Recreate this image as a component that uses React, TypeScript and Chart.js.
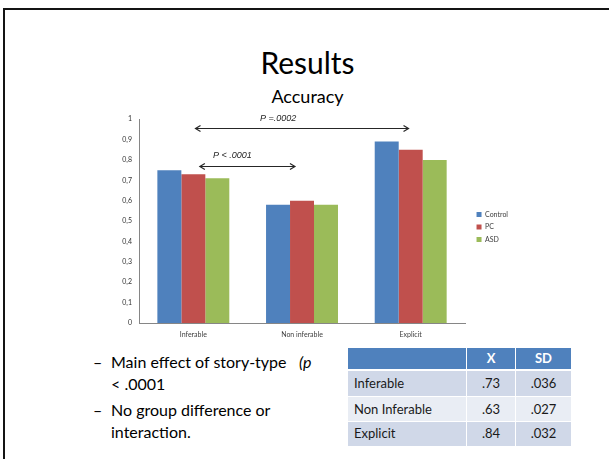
import React, { useEffect, useRef } from "react";
import { Chart, registerables } from "chart.js";

Chart.register(...registerables);

// ---- data ----
const categories = ["Inferable", "Non inferable", "Explicit"];
const seriesNames = ["Control", "PC", "ASD"];
const controlValues = [0.75, 0.58, 0.89];
const pcValues = [0.73, 0.6, 0.85];
const asdValues = [0.71, 0.58, 0.8];
const seriesColors = ["#4F81BD", "#C0504D", "#9BBB59"];
const yTickLabels = ["0", "0,1", "0,2", "0,3", "0,4", "0,5", "0,6", "0,7", "0,8", "0,9", "1"];

// significance brackets: category-index range, y level, label position
const comparisonLabels = ["P =.0002", "P < .0001"];
const comparisonFrom = [0.02, 0.06];
const comparisonTo = [1.98, 0.935];
const comparisonY = [0.956, 0.768];
const comparisonLabelX = [0.78, 0.36];
const comparisonLabelY = [1.004, 0.82];

const tableHeader = ["", "X", "SD"];
const tableRowNames = ["Inferable", "Non Inferable", "Explicit"];
const tableMeans = [".73", ".63", ".84"];
const tableSDs = [".036", ".027", ".032"];

const bulletLines = [
  ["Main effect of story-type", "< .0001"],
  ["No group difference or", "interaction."],
];

const arrowPlugin = {
  id: "arrows",
  afterDraw(chart: any) {
    const { ctx } = chart;
    const x = chart.scales.x;
    const y = chart.scales.y;
    ctx.save();
    comparisonLabels.forEach((label, i) => {
      const x1 = x.getPixelForValue(comparisonFrom[i]);
      const x2 = x.getPixelForValue(comparisonTo[i]);
      const yy = Math.round(y.getPixelForValue(comparisonY[i])) + 0.5;
      ctx.strokeStyle = "#262626";
      ctx.lineWidth = 1.2;
      ctx.beginPath();
      ctx.moveTo(x1, yy);
      ctx.lineTo(x2, yy);
      ctx.stroke();
      ctx.beginPath();
      ctx.moveTo(x1 + 5, yy - 3);
      ctx.lineTo(x1, yy);
      ctx.lineTo(x1 + 5, yy + 3);
      ctx.moveTo(x2 - 5, yy - 3);
      ctx.lineTo(x2, yy);
      ctx.lineTo(x2 - 5, yy + 3);
      ctx.stroke();
      ctx.font = "italic 9px 'Liberation Sans', Arial, sans-serif";
      ctx.fillStyle = "#262626";
      ctx.textAlign = "center";
      ctx.textBaseline = "middle";
      ctx.fillText(label, x.getPixelForValue(comparisonLabelX[i]), y.getPixelForValue(comparisonLabelY[i]));
    });
    ctx.restore();
  },
};

const legendShiftPlugin = {
  id: "legendShift",
  afterLayout(chart: any) {
    const l = chart.legend;
    if (!l) return;
    l.left += 6;
    l.right += 6;
    l.top -= 6;
    l.bottom -= 6;
  },
};

export default function App() {
  const canvasRef = useRef<HTMLCanvasElement | null>(null);

  useEffect(() => {
    if (!canvasRef.current) return;
    const valueSets = [controlValues, pcValues, asdValues];
    const chart = new Chart(canvasRef.current, {
      type: "bar",
      data: {
        labels: categories,
        datasets: seriesNames.map((name, i) => ({
          label: name,
          data: valueSets[i],
          backgroundColor: seriesColors[i],
          borderWidth: 0,
          barPercentage: 1,
          categoryPercentage: 0.662,
        })),
      },
      options: {
        animation: false,
        responsive: false,
        maintainAspectRatio: false,
        layout: { padding: { top: 10, right: 48, bottom: 0, left: 0 } },
        plugins: {
          legend: {
            position: "right",
            labels: {
              boxWidth: 5,
              boxHeight: 5,
              padding: 5.5,
              color: "#404040",
              font: { family: "Lato, sans-serif", size: 7 },
            },
          },
          tooltip: { enabled: false },
        },
        scales: {
          x: {
            grid: { display: false, drawTicks: false },
            border: { display: true, color: "#868686", width: 1 },
            ticks: {
              color: "#404040",
              padding: 8,
              font: { family: "Lato, sans-serif", size: 7 },
            },
            afterFit: (s: any) => {
              s.height = 25;
            },
          },
          y: {
            min: 0,
            max: 1,
            grid: { display: false, drawTicks: false },
            border: { display: true, color: "#868686", width: 1 },
            ticks: {
              stepSize: 0.1,
              color: "#333333",
              padding: 7,
              font: { family: "Lato, sans-serif", size: 7 },
              callback: (_v: any, i: number) => yTickLabels[i],
            },
            afterFit: (s: any) => {
              s.width = 39;
            },
          },
        },
      },
      plugins: [arrowPlugin, legendShiftPlugin],
    } as any);
    return () => chart.destroy();
  }, []);

  const rowBg = ["#D0D8E8", "#E9EDF4", "#D0D8E8"];
  const rowH = [26, 25, 24];
  const colW = [119, 49, 55];

  return (
    <div
      style={{
        position: "absolute",
        left: 0,
        top: 0,
        width: 609,
        height: 459,
        overflow: "hidden",
        background: "#fff",
        fontFamily: "Lato, 'Open Sans', sans-serif",
        color: "#000",
      }}
    >
      <div
        style={{
          position: "absolute",
          left: 3,
          top: 8,
          width: 700,
          height: 600,
          border: "2px solid #141414",
        }}
      />
      <div
        style={{
          position: "absolute",
          left: 0,
          width: 615,
          top: 47,
          fontSize: 30,
          lineHeight: "30px",
          textAlign: "center",
        }}
      >
        Results
      </div>
      <div
        style={{
          position: "absolute",
          left: 0,
          width: 615,
          top: 87,
          fontSize: 18,
          lineHeight: "18px",
          textAlign: "center",
        }}
      >
        Accuracy
      </div>
      <div style={{ position: "absolute", left: 100, top: 108, width: 460, height: 240 }}>
        <canvas ref={canvasRef} width={460} height={240} style={{ width: 460, height: 240 }} />
      </div>

      {bulletLines.map((lines, bi) => (
        <React.Fragment key={bi}>
          <div
            style={{
              position: "absolute",
              left: 93,
              top: bi === 0 ? 351 : 399,
              fontSize: 16,
              lineHeight: "22px",
            }}
          >
            –
          </div>
          {lines.map((t, li) => (
            <div
              key={li}
              style={{
                position: "absolute",
                left: 111,
                top: (bi === 0 ? 351 : 399) + li * 22,
                fontSize: 16,
                lineHeight: "22px",
                whiteSpace: "nowrap",
              }}
            >
              {t}
            </div>
          ))}
        </React.Fragment>
      ))}
      <div
        style={{
          position: "absolute",
          left: 299,
          top: 351,
          fontSize: 16,
          lineHeight: "22px",
          fontStyle: "italic",
        }}
      >
        (p
      </div>

      <div style={{ position: "absolute", left: 348, top: 348, width: 223 }}>
        <div style={{ display: "flex", height: 23 }}>
          {tableHeader.map((h, ci) => (
            <div
              key={ci}
              style={{
                width: colW[ci],
                boxSizing: "border-box",
                background: "#4F81BD",
                borderRight: ci < 2 ? "1px solid #fff" : "none",
                borderBottom: "2px solid #fff",
                color: "#fff",
                fontWeight: "bold",
                fontSize: 13,
                lineHeight: "21px",
                textAlign: "center",
              }}
            >
              {h}
            </div>
          ))}
        </div>
        {tableRowNames.map((name, ri) => {
          const cells = [name, tableMeans[ri], tableSDs[ri]];
          return (
            <div key={ri} style={{ display: "flex", height: rowH[ri] }}>
              {cells.map((c, ci) => (
                <div
                  key={ci}
                  style={{
                    width: colW[ci],
                    boxSizing: "border-box",
                    background: rowBg[ri],
                    borderRight: ci < 2 ? "1px solid #fff" : "none",
                    borderBottom: ri < 2 ? "1px solid #fff" : "none",
                    color: "#1a1a1a",
                    fontSize: 13,
                    lineHeight: rowH[ri] - 1 + "px",
                    textAlign: ci === 0 ? "left" : "center",
                    paddingLeft: ci === 0 ? 6 : 0,
                  }}
                >
                  {c}
                </div>
              ))}
            </div>
          );
        })}
      </div>
    </div>
  );
}
